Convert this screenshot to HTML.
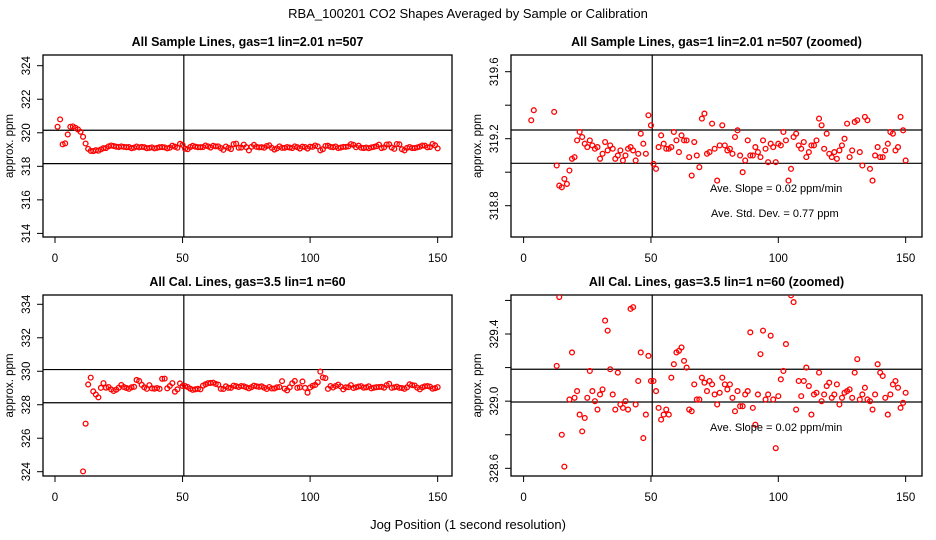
<!DOCTYPE html>
<html><head><meta charset="utf-8">
<style>
html,body{margin:0;padding:0;background:#fff;width:936px;height:540px;overflow:hidden;}
svg{display:block;font-family:"Liberation Sans",sans-serif;}
</style></head>
<body>
<svg id="chart" width="936" height="540" viewBox="0 0 936 540">
<text x="468" y="18" text-anchor="middle" font-size="13">RBA_100201  CO2 Shapes Averaged by Sample or Calibration</text>
<text x="468" y="529" text-anchor="middle" font-size="13">Jog Position (1 second resolution)</text>
</svg>
<script>
// ---- data ----
const sampleStart = 1;
const sampleValues = [320.36,320.8,319.31,319.37,319.9,320.36,320.38,320.3,320.2,320.06,319.76,319.36,
319.04,318.92,318.91,318.96,318.93,319.01,319.08,319.09,319.19,319.24,319.21,319.17,319.15,319.19,319.16,319.14,319.15,319.08,
319.11,319.18,319.13,319.16,319.14,319.08,319.10,319.13,319.07,319.10,319.14,319.15,319.13,319.07,319.11,319.23,319.17,319.11,319.34,319.28,
319.05,319.02,319.15,319.22,319.17,319.14,319.14,319.15,319.24,319.19,319.12,319.22,319.19,319.19,319.09,318.98,319.18,319.10,319.03,319.32,
319.35,319.11,319.12,319.29,319.14,318.95,319.16,319.28,319.16,319.13,319.14,319.11,319.21,319.25,319.10,319.00,319.07,319.19,319.10,319.10,
319.15,319.12,319.09,319.19,319.14,319.06,319.17,319.15,319.06,319.17,319.16,319.24,319.19,318.95,319.02,319.21,319.23,319.16,319.14,319.18,
319.09,319.12,319.16,319.16,319.19,319.32,319.28,319.14,319.23,319.11,319.09,319.12,319.08,319.13,319.16,319.20,319.29,319.09,319.13,319.30,
319.31,319.12,319.04,319.33,319.31,319.02,318.95,319.10,319.15,319.09,319.09,319.13,319.17,319.24,319.23,319.13,319.15,319.33,319.25,319.07];
const calStart = 11;
const calValues = [324.02,326.87,329.21,329.62,328.80,328.61,328.44,329.01,329.29,329.02,
329.06,328.92,328.82,328.90,329.02,329.18,329.06,329.00,328.95,329.04,
329.07,329.48,329.42,329.19,329.04,328.95,329.17,328.98,328.96,329.00,
328.95,329.55,329.56,328.98,329.12,329.29,328.78,328.92,329.27,329.12,
329.12,329.06,328.96,328.89,328.92,328.95,328.92,329.14,329.22,329.29,
329.30,329.32,329.24,329.20,328.95,328.94,329.10,329.01,329.01,329.14,
329.11,329.06,329.12,329.10,329.04,328.98,329.05,329.14,329.10,329.07,
329.10,329.02,328.94,329.06,328.97,328.97,329.04,329.06,329.41,328.96,
328.86,329.04,329.28,329.42,329.01,329.04,329.39,329.01,328.72,329.03,
329.13,329.18,329.34,329.98,329.63,329.59,328.95,329.12,329.03,329.12,
329.20,329.09,328.92,329.04,329.05,329.17,329.00,329.04,329.09,329.11,
329.02,329.04,329.10,328.98,329.02,329.05,329.06,329.07,329.02,329.17,
329.25,329.01,329.04,329.08,329.01,329.00,328.95,329.04,329.22,329.17,
329.15,329.02,328.92,329.04,329.10,329.12,329.08,328.96,328.99,329.05];
const xTicks = [0,50,100,150];
const p1YTicks = [314,316,318,320,322,324];
const p2YTicks = [318.8,319.0,319.2,319.4,319.6];
const p2YLabels = ["318.8","","319.2","","319.6"];
const p3YTicks = [324,326,328,330,332,334];
const p4YTicks = [328.6,328.8,329.0,329.2,329.4,329.6];
const p4YLabels = ["328.6","","329.0","","329.4",""];
const p1HLines = [320.15,318.16];
const p2HLines = [319.252,319.053];
const p3HLines = [330.1,328.12];
const p4HLines = [329.19,328.995];
const vLine = 50.5;

const NS = "http://www.w3.org/2000/svg";
const svg = document.getElementById('chart');
function mk(tag, attrs, parent){
  const e = document.createElementNS(NS, tag);
  for (const k in attrs) e.setAttribute(k, attrs[k]);
  (parent||svg).appendChild(e);
  return e;
}

const panels = [
 {name:'sample-panel', title:'All Sample Lines, gas=1 lin=2.01 n=507', box:[43,55,452,237],
  x0:55, xs:2.551, yRef:324, yRefPx:65.7, ys:16.77, yt:p1YTicks, yl:p1YTicks.map(String),
  hl:p1HLines, vals:sampleValues, start:sampleStart, notes:[]},
 {name:'sample-zoomed-panel', title:'All Sample Lines, gas=1 lin=2.01 n=507 (zoomed)', box:[511,55,922,237],
  x0:523.6, xs:2.547, yRef:319.6, yRefPx:71.7, ys:167.5, yt:p2YTicks, yl:p2YLabels,
  hl:p2HLines, vals:sampleValues, start:sampleStart,
  notes:[['Ave. Slope =  0.02  ppm/min',710,192],['Ave. Std. Dev. =  0.77  ppm',711,217]]},
 {name:'cal-panel', title:'All Cal. Lines, gas=3.5 lin=1 n=60', box:[43,295,452,476],
  x0:55, xs:2.551, yRef:334, yRefPx:304.3, ys:16.74, yt:p3YTicks, yl:p3YTicks.map(String),
  hl:p3HLines, vals:calValues, start:calStart, notes:[]},
 {name:'cal-zoomed-panel', title:'All Cal. Lines, gas=3.5 lin=1 n=60 (zoomed)', box:[511,295,922,476],
  x0:523.6, xs:2.547, yRef:329.4, yRefPx:334, ys:167.9, yt:p4YTicks, yl:p4YLabels,
  hl:p4HLines, vals:calValues, start:calStart,
  notes:[['Ave. Slope =  0.02  ppm/min',710,431]]}
];

panels.forEach((p, i) => {
  const g = mk('g', {});
  
  
  const [L,T,R,B] = p.box;
  const X = v => p.x0 + v*p.xs;
  const Y = v => p.yRefPx + (p.yRef - v)*p.ys;
  const cid = 'clip'+i;
  const cp = mk('clipPath', {id:cid}, g);
  mk('rect', {x:L, y:T, width:R-L, height:B-T}, cp);

  const t = mk('text', {x:(L+R)/2, y:T-9, 'text-anchor':'middle', 'font-size':'12.5', 'font-weight':'bold'}, g);
  t.textContent = p.title;
  
  

  const box = mk('rect', {x:L, y:T, width:R-L, height:B-T, fill:'none', stroke:'#000', 'stroke-width':1.3}, g);
  
  

  xTicks.forEach(v => {
    const tk = mk('line', {x1:X(v), x2:X(v), y1:B, y2:B+6, stroke:'#000', 'stroke-width':1}, g);
    
    
    const tl = mk('text', {x:X(v), y:B+25, 'text-anchor':'middle', 'font-size':'11.5'}, g);
    tl.textContent = v;
    
    
  });
  p.yt.forEach((v, k) => {
    const tk = mk('line', {x1:L-6, x2:L, y1:Y(v), y2:Y(v), stroke:'#000', 'stroke-width':1}, g);
    
    
    if (p.yl[k]) {
      const tl = mk('text', {x:0, y:0, 'text-anchor':'middle', 'font-size':'11.5',
        transform:`translate(${L-13},${Y(v)}) rotate(-90)`}, g);
      tl.textContent = p.yl[k];
      
      
    }
  });
  const yl = mk('text', {x:0, y:0, 'text-anchor':'middle', 'font-size':'11.5',
    transform:`translate(${L-30},${(T+B)/2}) rotate(-90)`}, g);
  yl.textContent = 'approx. ppm';
  
  

  p.hl.forEach(v => {
    const ln = mk('line', {x1:L, x2:R, y1:Y(v), y2:Y(v), stroke:'#000', 'stroke-width':1.2}, g);
    
    
  });
  const vl = mk('line', {x1:X(vLine), x2:X(vLine), y1:T, y2:B, stroke:'#000', 'stroke-width':1.2}, g);
  
  

  const pg = mk('g', {'clip-path':`url(#${cid})`}, g);
  p.vals.forEach((v, k) => {
    if (v == null) return;
    const c = mk('circle', {cx:X(p.start + k), cy:Y(v), r:2.4, fill:'none', stroke:'#ff0000', 'stroke-width':1.3}, pg);
    
    
  });

  p.notes.forEach(n => {
    const tx = mk('text', {x:n[1], y:n[2], 'font-size':'11'}, g);
    tx.textContent = n[0];
    
    
  });
});
</script>
</body></html>
